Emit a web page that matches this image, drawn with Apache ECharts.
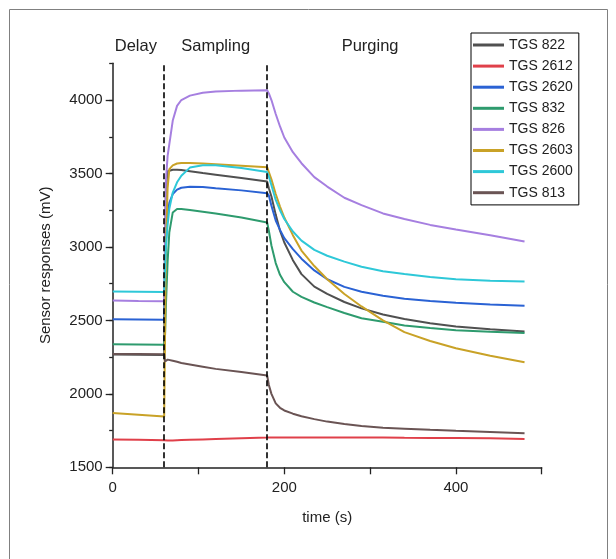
<!DOCTYPE html>
<html>
<head>
<meta charset="utf-8">
<style>
html,body{margin:0;padding:0;background:#fff;}
#chart{width:616px;height:559px;}
</style>
<script src="https://cdn.jsdelivr.net/npm/echarts@6/dist/echarts.min.js"></script>
</head>
<body>
<div id="chart"></div>
<script>
// time points (s)
const times = [0, 30, 60, 61, 62, 64, 66, 70, 75, 80, 90, 105, 120, 150, 180, 182, 185, 190, 195, 200, 210, 220, 235, 250, 270, 290, 315, 340, 370, 400, 440, 480];

const seriesNames = ['TGS 822', 'TGS 2612', 'TGS 2620', 'TGS 832', 'TGS 826', 'TGS 2603', 'TGS 2600', 'TGS 813'];

const tgs822  = [2268, 2266, 2265, 3000, 3400, 3515, 3525, 3525, 3525, 3523, 3515, 3503, 3492, 3470, 3445, 3400, 3343, 3220, 3110, 3030, 2910, 2815, 2730, 2680, 2625, 2582, 2540, 2510, 2481, 2459, 2440, 2425];
const tgs2612 = [1690, 1688, 1684, 1681, 1681, 1682, 1682, 1683, 1684, 1685, 1687, 1690, 1693, 1698, 1702, 1702, 1703, 1703, 1703, 1703, 1703, 1703, 1703, 1703, 1703, 1702, 1702, 1701, 1700, 1699, 1698, 1693];
const tgs2620 = [2507, 2506, 2505, 2800, 3050, 3220, 3300, 3360, 3390, 3403, 3410, 3408, 3400, 3385, 3366, 3350, 3280, 3180, 3116, 3060, 2985, 2920, 2840, 2780, 2728, 2695, 2668, 2648, 2632, 2620, 2609, 2599];
const tgs832  = [2338, 2336, 2334, 2400, 2600, 2900, 3100, 3235, 3258, 3258, 3252, 3240, 3228, 3200, 3166, 3110, 3010, 2890, 2810, 2760, 2695, 2660, 2622, 2590, 2550, 2515, 2490, 2465, 2448, 2433, 2422, 2415];
const tgs826  = [2635, 2632, 2630, 3100, 3450, 3620, 3700, 3860, 3960, 4000, 4030, 4050, 4058, 4064, 4066, 4045, 4000, 3905, 3820, 3745, 3645, 3570, 3475, 3411, 3335, 3285, 3228, 3190, 3150, 3118, 3080, 3037];
const tgs2603 = [1870, 1858, 1845, 2400, 3000, 3400, 3530, 3555, 3568, 3571, 3571, 3568, 3563, 3553, 3543, 3510, 3460, 3360, 3275, 3200, 3080, 2975, 2870, 2780, 2680, 2595, 2500, 2420, 2360, 2310, 2260, 2215];
const tgs2600 = [2696, 2695, 2694, 2850, 3000, 3150, 3260, 3370, 3440, 3485, 3540, 3556, 3556, 3538, 3510, 3480, 3420, 3320, 3250, 3190, 3105, 3043, 2980, 2940, 2900, 2865, 2835, 2815, 2795, 2780, 2770, 2764];
const tgs813  = [2272, 2271, 2270, 2220, 2225, 2233, 2231, 2225, 2218, 2210, 2200, 2185, 2170, 2148, 2125, 2060, 2000, 1935, 1905, 1887, 1865, 1848, 1828, 1811, 1795, 1781, 1770, 1763, 1755, 1748, 1740, 1732];

const seriesValues = [tgs822, tgs2612, tgs2620, tgs832, tgs826, tgs2603, tgs2600, tgs813];
const seriesColors = ['#505050', '#e0404a', '#2a62d4', '#2e9b6e', '#a67fe0', '#c9a227', '#2ec8d8', '#6a5454'];

// phase boundaries and phase labels
const phaseBounds = [60, 180];
const phaseLabels = ['Delay', 'Sampling', 'Purging'];
const phaseLabelTimes = [27, 120, 300];

const xTickLabels = [0, 200, 400];
const yTickLabels = [1500, 2000, 2500, 3000, 3500, 4000];

const chart = echarts.init(document.getElementById('chart'), null, {renderer: 'canvas'});

const series = seriesNames.map((name, i) => ({
  type: 'line',
  name: name,
  data: times.map((t, j) => [t, seriesValues[i][j]]),
  symbol: 'none',
  smooth: false,
  lineStyle: {width: 2, color: seriesColors[i]},
  itemStyle: {color: seriesColors[i]},
  z: 2
}));

series.push({
  type: 'line',
  name: '__bounds',
  data: [],
  symbol: 'none',
  markLine: {
    silent: true,
    symbol: 'none',
    label: {show: false},
    lineStyle: {color: '#000', type: [6, 3], width: 1.6},
    data: phaseBounds.map(b => ({xAxis: b}))
  },
  z: 3
});

const font = 'Liberation Sans, Arial, sans-serif';

chart.setOption({
  animation: false,
  backgroundColor: '#fff',
  grid: {left: 112.7, right: 74.3, top: 63.3, bottom: 91.7, containLabel: false},
  legend: {
    data: seriesNames,
    orient: 'vertical',
    left: 471,
    top: 33,
    padding: [1.5, 6, 1.7, 2],
    icon: 'rect',
    itemWidth: 31,
    itemHeight: 3,
    itemGap: 0.1,
    borderColor: '#000',
    borderWidth: 1,
    backgroundColor: '#fff',
    textStyle: {fontSize: 14, lineHeight: 21, color: '#222', fontFamily: font}
  },
  xAxis: {
    type: 'value',
    min: 0,
    max: 500,
    interval: 100,
    name: 'time (s)',
    nameLocation: 'middle',
    nameGap: 43,
    nameTextStyle: {fontSize: 15, color: '#222', fontFamily: font},
    axisLine: {lineStyle: {color: '#222', width: 1.5}},
    axisTick: {length: 7, lineStyle: {color: '#222', width: 1.3}},
    axisLabel: {
      margin: 13,
      fontSize: 15,
      color: '#222',
      fontFamily: font,
      formatter: v => (xTickLabels.indexOf(v) >= 0 ? String(v) : '')
    },
    splitLine: {show: false}
  },
  yAxis: [{
    type: 'value',
    min: 1500,
    max: 4250,
    interval: 250,
    name: 'Sensor responses (mV)',
    nameLocation: 'middle',
    nameGap: 59,
    nameTextStyle: {fontSize: 15, color: '#222', fontFamily: font},
    axisLine: {show: true, lineStyle: {color: '#222', width: 1.5}},
    axisTick: {show: true, length: 3.5, lineStyle: {color: '#222', width: 1.3}},
    axisLabel: {
      margin: 10, fontSize: 15, color: '#222', fontFamily: font,
      formatter: v => (yTickLabels.indexOf(v) >= 0 ? String(v) : '')
    },
    splitLine: {show: false}
  }, {
    type: 'value',
    position: 'left',
    min: 1500,
    max: 4250,
    interval: 500,
    axisLine: {show: false},
    axisTick: {show: true, length: 7, customValues: yTickLabels, lineStyle: {color: '#222', width: 1.3}},
    axisLabel: {show: false},
    splitLine: {show: false}
  }],
  series: series
});

const topY = chart.convertToPixel({gridIndex: 0}, [0, 4250])[1];
const graphics = phaseLabels.map((txt, i) => {
  const px = chart.convertToPixel({gridIndex: 0}, [phaseLabelTimes[i], 4250]);
  return {
    type: 'text',
    x: px[0],
    y: topY - 17,
    style: {text: txt, fontSize: 16.5, fill: '#222', fontFamily: font, align: 'center', verticalAlign: 'middle'},
    z: 10
  };
});
graphics.push({
  type: 'rect',
  shape: {x: 9.5, y: 9.5, width: 598, height: 570},
  style: {fill: 'none', stroke: '#808080', lineWidth: 1},
  z: 10
});
chart.setOption({graphic: graphics});
</script>
</body>
</html>
